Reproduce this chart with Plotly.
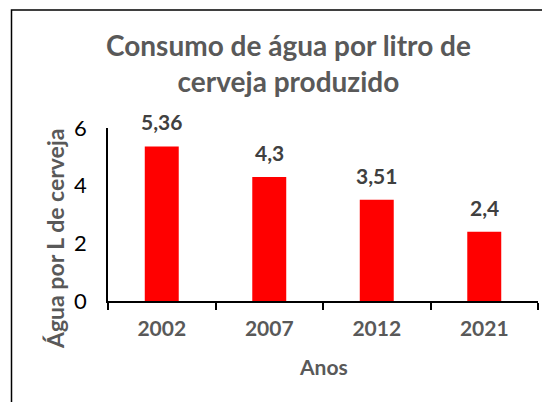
import plotly.graph_objects as go

anos = ["2002", "2007", "2012", "2021"]
agua = [5.36, 4.3, 3.51, 2.4]
rotulos = ["5,36", "4,3", "3,51", "2,4"]
y_ticks = [0, 2, 4, 6]

# the page puts the figure 8 px in from the top-left corner
OFF = 8
W, H = 550 - OFF, 402 - OFF
L, R, T, B = 108 - OFF, 12, 128 - OFF, 101
PW, PH = W - L - R, H - T - B

def px(x):
    return (x - OFF - L) / PW

def py(y):
    return (H - B - (y - OFF)) / PH

FONT = "Lato"

fig = go.Figure()
fig.add_trace(go.Bar(x=anos, y=agua, marker=dict(color="#FF0000", line=dict(width=0)),
                     hoverinfo="skip"))

for i, (v, t) in enumerate(zip(agua, rotulos)):
    fig.add_annotation(x=i, y=v, text="<b>%s</b>" % t, showarrow=False,
                       yanchor="bottom", yshift=10,
                       font=dict(family=FONT, size=21, color="#404040"))

fig.add_annotation(xref="paper", yref="paper", x=px(288), y=py(63),
                   text="<b>Consumo de água por litro de<br>cerveja produzido</b>",
                   showarrow=False, xanchor="center", yanchor="middle",
                   font=dict(family=FONT, size=28, color="#595959"))

fig.add_annotation(xref="paper", yref="paper", x=px(323), y=py(366),
                   text="<b>Anos</b>", showarrow=False, xanchor="center", yanchor="middle",
                   font=dict(family=FONT, size=21, color="#595959"))

fig.add_annotation(xref="paper", yref="paper", x=px(55), y=py(239),
                   text="<b>Água por L de cerveja</b>", showarrow=False, textangle=-90,
                   xanchor="center", yanchor="middle",
                   font=dict(family=FONT, size=23, color="#595959"))

fig.add_shape(type="rect", xref="paper", yref="paper",
              x0=px(11.5), x1=px(620), y0=py(480), y1=py(10),
              line=dict(color="#000000", width=1.5), fillcolor="rgba(0,0,0,0)", layer="below")

fig.update_layout(
    width=W, height=H, margin=dict(l=L, r=R, t=T, b=B),
    paper_bgcolor="white", plot_bgcolor="white",
    showlegend=False, bargap=0.684,
    xaxis=dict(type="category", range=[-0.5, 3.5], showline=True, linecolor="#000000",
               linewidth=1.5, ticks="outside", tickson="boundaries", ticklen=7,
               tickcolor="#000000", tickwidth=1.5, showgrid=False, tickangle=0,
               tickfont=dict(family=FONT, size=21, color="#595959"),
               tickprefix="<b>", ticksuffix="</b>", ticklabelstandoff=8),
    yaxis=dict(range=[0, 6], tickvals=y_ticks, showline=True, linecolor="#000000",
               linewidth=1.5, ticks="", showgrid=False, zeroline=False,
               tickfont=dict(family=FONT, size=22, color="#000000"),
               tickprefix="<b>", ticksuffix="</b>", ticklabelstandoff=15),
)

fig.write_html("out.html")
